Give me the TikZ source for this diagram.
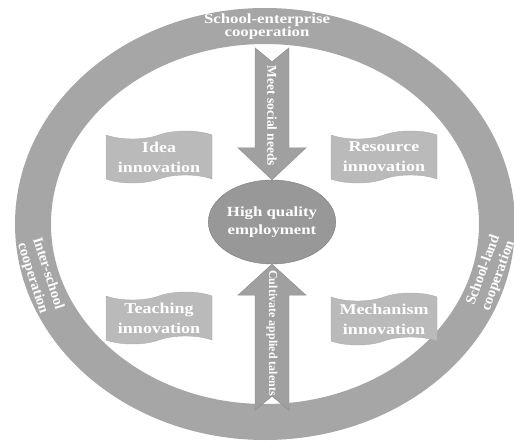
\documentclass[tikz,border=0pt]{standalone}
\usepackage{fontspec}
\setmainfont{Liberation Serif}
\newfontfamily\widefont[FakeStretch=1.2]{Liberation Serif}
\usetikzlibrary{shapes.geometric, shapes.symbols}
\definecolor{ringgray}{RGB}{166,166,166}
\definecolor{boxgray}{RGB}{186,186,186}
\definecolor{boxline}{RGB}{172,172,172}
\definecolor{coregray}{RGB}{152,152,152}
\definecolor{coreline}{RGB}{125,125,125}
\definecolor{arrowgray}{RGB}{160,160,160}
\tikzstyle{ring} = [draw=ringgray, line width=36pt]
\tikzstyle{ringtext} = [text=white, align=center, inner sep=0pt, font=\widefont\bfseries\fontsize{14}{13}\selectfont]
\tikzstyle{sidetext} = [text=white, align=center, inner sep=0pt, font=\bfseries\fontsize{14.5}{16}\selectfont]
\tikzstyle{innovation} = [tape, tape bend height=8pt, minimum width=106pt, minimum height=52pt, inner sep=0pt, fill=boxgray, draw=boxline, text=white, align=center, font=\widefont\bfseries\fontsize{15}{20}\selectfont]
\tikzstyle{core} = [ellipse, minimum width=110pt, minimum height=84pt, inner sep=0pt, fill=coregray, draw=coreline, text=white, align=center, font=\widefont\bfseries\fontsize{14}{18}\selectfont]
\tikzstyle{bigarrow} = [fill=arrowgray, draw=arrowgray!85!black, line width=0.4pt]
\tikzstyle{arrowtext} = [text=white, rotate=-90, inner sep=0pt, font=\bfseries\fontsize{12.5}{14}\selectfont]

\begin{document}
\begin{tikzpicture}[x=1pt, y=-1pt]

    \useasboundingbox (0,0) rectangle (514,441);

    % Ring
    \draw [ring] (265,224) ellipse [x radius=232, y radius=198];
    \node (enterprise) [ringtext] at (267,27) {School-enterprise\\cooperation};
    \node (interschool) [sidetext, rotate=-72] at (40,276) {Inter-school\\cooperation};
    \node (schoolland) [sidetext, rotate=70] at (491,273) {School-land\\cooperation};

    % Nodes
    \node (employment) [core] at (272,222) {High quality\\employment};
    \node (idea) [innovation] at (159,157) {Idea\\innovation};
    \node (resource) [innovation] at (384,157) {Resource\\innovation};
    \node (teaching) [innovation] at (159,318) {Teaching\\innovation};
    \node (mechanism) [innovation] at (384,319) {Mechanism\\innovation};

    % Arrows
    \filldraw [bigarrow] (employment.north) -- ++(-34,-32) -- ++(17,0) -- ++(0,-100) -- ++(17,14) -- ++(17,-14) -- ++(0,100) -- ++(17,0) -- cycle;
    \filldraw [bigarrow] (employment.south) -- ++(-34,31) -- ++(17,0) -- ++(0,115) -- ++(17,-14) -- ++(17,14) -- ++(0,-115) -- ++(17,0) -- cycle;
    \node (needs) [arrowtext, font=\bfseries\fontsize{13.5}{14}\selectfont] at (272,116) {Meet social needs};
    \node (talents) [arrowtext, font=\bfseries\fontsize{12}{14}\selectfont] at (272,333) {Cultivate applied talents};

\end{tikzpicture}
\end{document}
